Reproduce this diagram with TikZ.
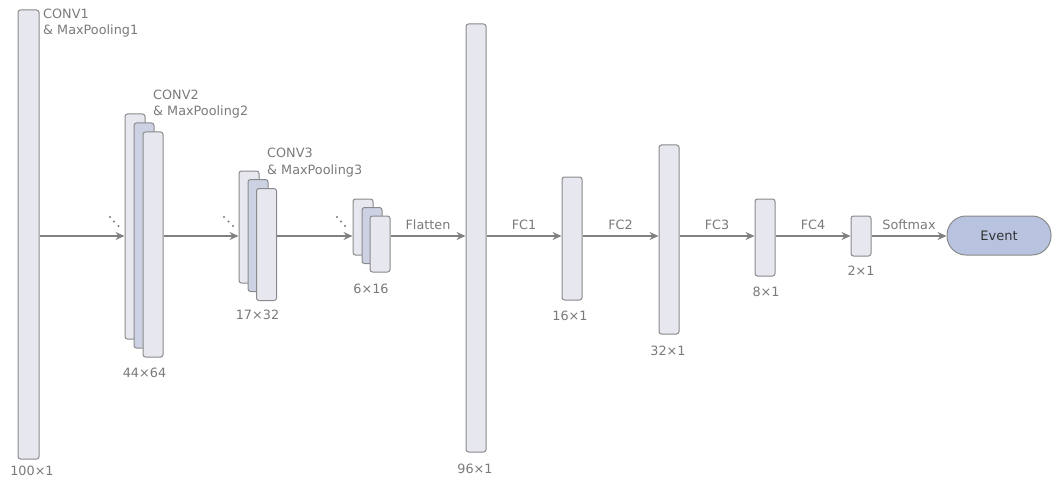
\documentclass[tikz,border=0pt]{standalone}
\usepackage{fontspec}
\setmainfont{DejaVu Sans}
\usetikzlibrary{arrows.meta}
\definecolor{boxfill}{HTML}{E6E7EF}
\definecolor{midfill}{HTML}{CCD2E4}
\definecolor{boxline}{HTML}{8A8A8A}
\definecolor{evfill}{HTML}{B7C3DF}
\definecolor{txt}{HTML}{7A7A7A}
\definecolor{arr}{HTML}{808080}
\begin{document}
\begin{tikzpicture}[x=1pt,y=-1pt,
  layer/.style={draw=boxline,fill=boxfill,line width=1pt,rounded corners=2.5pt,inner sep=0pt,minimum width=20pt},
  midlayer/.style={layer,fill=midfill},
  lbl/.style={text=txt,font=\fontsize{12.8}{14}\selectfont,inner sep=0pt,anchor=base west},
  dim/.style={text=txt,font=\fontsize{12.8}{14}\selectfont,inner sep=0pt,anchor=base},
  conn/.style={draw=arr,line width=1.5pt,-{Stealth[length=9pt,width=8pt,inset=3pt]}},
  dotc/.style={fill=txt,draw=none,circle,inner sep=0pt,minimum size=2.2pt}]
\useasboundingbox (0,0) rectangle (1052,484);
\coordinate (ax) at (0,236);
% layer 1
\node[layer,minimum width=21pt,minimum height=449pt] (b1) at (28.5,234.5) {};
\node[lbl] (l1a) at (43,18.5) {CONV1};
\node[lbl] (l1b) at (43,34.5) {\& MaxPooling1};
\node[dim] (d1) at (32,475) {100×1};
% conv2
\node[layer,minimum height=225pt] (c2a) at (135,226.5) {};
\node[midlayer,minimum height=225pt] (c2b) at (144,235.5) {};
\node[layer,minimum height=225pt] (c2c) at (153,244.5) {};
\node[lbl] (l2a) at (153,100) {CONV2};
\node[lbl] (l2b) at (153,116) {\& MaxPooling2};
\node[dim] (d2) at (144.5,377) {44×64};
\node[dotc] (p2a) at (110,217) {};
\node[dotc] (p2b) at (114,221.5) {};
\node[dotc] (p2c) at (118.5,226) {};
% conv3
\node[layer,minimum height=112pt] (c3a) at (249,227) {};
\node[midlayer,minimum height=112pt] (c3b) at (258,235.5) {};
\node[layer,minimum height=112pt] (c3c) at (266.5,244.5) {};
\node[lbl] (l3a) at (267,157.3) {CONV3};
\node[lbl] (l3b) at (267,174) {\& MaxPooling3};
\node[dim] (d3) at (257.5,319) {17×32};
\node[dotc] (p3a) at (224,217) {};
\node[dotc] (p3b) at (228.5,221.5) {};
\node[dotc] (p3c) at (233,226) {};
% group 4
\node[layer,minimum height=56pt] (c4a) at (363,227) {};
\node[midlayer,minimum height=56pt] (c4b) at (372,235.5) {};
\node[layer,minimum height=56pt] (c4c) at (380,244) {};
\node[dim] (d4) at (371,293.3) {6×16};
\node[dotc] (p4a) at (337,217) {};
\node[dotc] (p4b) at (341,221.5) {};
\node[dotc] (p4c) at (345,226) {};
% fully connected
\node[layer,minimum height=428pt] (f96) at (476,238) {};
\node[dim] (d96) at (475,473) {96×1};
\node[layer,minimum height=123pt] (f16) at (572,238.5) {};
\node[dim] (d16) at (570,320.7) {16×1};
\node[layer,minimum height=189pt] (f32) at (669,239.5) {};
\node[dim] (d32) at (668,355) {32×1};
\node[layer,minimum height=77pt] (f8) at (765,237.5) {};
\node[dim] (d8) at (766,296.7) {8×1};
\node[layer,minimum height=40pt] (f2) at (861,236) {};
\node[dim] (d2b) at (861,275) {2×1};
\node[draw=boxline,fill=evfill,line width=1pt,rounded corners=19pt,minimum width=104pt,minimum height=39pt,inner sep=0pt,text=black!80,font=\fontsize{13}{14}\selectfont] (ev) at (999,235.5) {Event};
% connectors
\draw[conn] (b1.east |- ax) -- (c2a.west |- ax);
\draw[conn] (c2c.east |- ax) -- (c3a.west |- ax);
\draw[conn] (c3c.east |- ax) -- (c4a.west |- ax);
\draw[conn] (c4c.east |- ax) -- node[dim,above=5.5pt] (tfl) {Flatten} (f96.west |- ax);
\draw[conn] (f96.east |- ax) -- node[dim,above=5.5pt] (tf1) {FC1} (f16.west |- ax);
\draw[conn] (f16.east |- ax) -- node[dim,above=5.5pt] (tf2) {FC2} (f32.west |- ax);
\draw[conn] (f32.east |- ax) -- node[dim,above=5.5pt] (tf3) {FC3} (f8.west |- ax);
\draw[conn] (f8.east |- ax) -- node[dim,above=5.5pt] (tf4) {FC4} (f2.west |- ax);
\draw[conn] (f2.east |- ax) -- node[dim,above=5.5pt] (tsm) {Softmax} (ev.west |- ax);
\end{tikzpicture}
\end{document}
